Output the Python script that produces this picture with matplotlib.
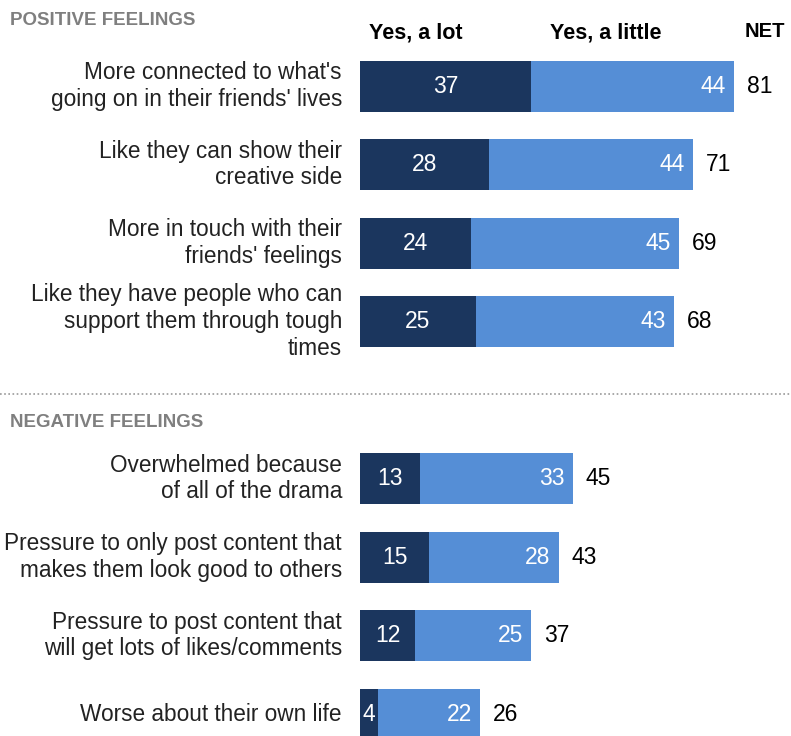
import matplotlib
matplotlib.use("Agg")
import matplotlib.pyplot as plt

# data
labels = [
    "More connected to what's\ngoing on in their friends' lives",
    "Like they can show their\ncreative side",
    "More in touch with their\nfriends' feelings",
    "Like they have people who can\nsupport them through tough\ntimes",
    "Overwhelmed because\nof all of the drama",
    "Pressure to only post content that\nmakes them look good to others",
    "Pressure to post content that\nwill get lots of likes/comments",
    "Worse about their own life",
]
yes_lot = [37, 28, 24, 25, 13, 15, 12, 4]
yes_little = [44, 44, 45, 43, 33, 28, 25, 22]
net = [81, 71, 69, 68, 45, 43, 37, 26]
rows = [0, 1, 2, 3, 5, 6, 7, 8]   # slot 4 left empty for the section break

dark = "#1b365e"
light = "#558ed6"

plt.rcParams['font.family'] = ['Liberation Sans', 'DejaVu Sans']

fig = plt.figure(figsize=(7.91, 7.36), dpi=100)
ax = fig.add_axes([0, 0, 1, 1])
px = 4.62  # pixels per percentage point
ax.set_xlim(-360 / px, 431 / px)
ax.set_ylim(8.28, -1.096)
ax.axis("off")

h = 0.65
ax.barh(rows, yes_lot, height=h, color=dark, edgecolor="none")
ax.barh(rows, yes_little, left=yes_lot, height=h, color=light, edgecolor="none")

for r, lab, a, b, n in zip(rows, labels, yes_lot, yes_little, net):
    ax.text(-18 / px, r, lab, ha="right", va="center", fontsize=16.3,
            linespacing=1.2, color="#222222")
    ax.text(a / 2, r, str(a), ha="center", va="center", fontsize=16.5, color="white")
    ax.text(a + b - 8 / px, r, str(b), ha="right", va="center", fontsize=16.5, color="white")
    ax.text(a + b + 13 / px, r, str(n), ha="left", va="center", fontsize=16.5, color="black")

# column headers
ax.text(56 / px, -0.67, "Yes, a lot", ha="center", va="center", fontsize=15.5,
        fontweight="bold")
ax.text(246 / px, -0.67, "Yes, a little", ha="center", va="center", fontsize=15.5,
        fontweight="bold")
ax.text(405 / px, -0.7, "NET", ha="center", va="center", fontsize=14.5, fontweight="bold")

# section headers and divider
ax.text(-350 / px, -0.84, "POSITIVE FEELINGS", ha="left", va="center", fontsize=13.5,
        fontweight="bold", color="#7f7f7f")
ax.text(-350 / px, 4.28, "NEGATIVE FEELINGS", ha="left", va="center", fontsize=13.5,
        fontweight="bold", color="#7f7f7f")
ax.plot([-360 / px, 431 / px], [3.92, 3.92], color="#999999", lw=1.2,
        linestyle=(0, (1, 1.5)), clip_on=False)

fig.savefig("out.png", dpi=100)
